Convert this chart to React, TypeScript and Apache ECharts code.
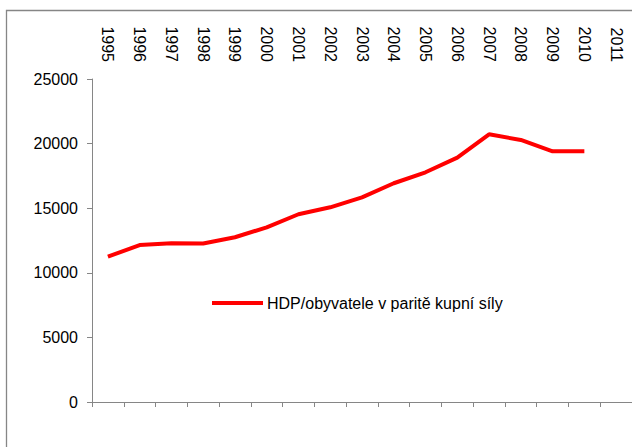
import React, { useEffect, useRef } from "react";
import * as echarts from "echarts";

const years = ["1995","1996","1997","1998","1999","2000","2001","2002","2003","2004","2005","2006","2007","2008","2009","2010","2011"];
const hdp: (number | null)[] = [11250,12150,12280,12270,12750,13520,14530,15070,15840,16930,17780,18910,20720,20280,19400,19400,null];
const yTicks = { min: 0, max: 25000, interval: 5000 };
const seriesName = "HDP/obyvatele v paritě kupní síly";

export default function App() {
  const ref = useRef<HTMLDivElement>(null);
  useEffect(() => {
    document.body.style.margin = "0";
    document.body.style.overflow = "hidden";
    const chart = echarts.init(ref.current!, null, { renderer: "svg" });
    const font = "Liberation Sans, Arial, sans-serif";
    const gray = "#868686";
    chart.setOption({
      animation: false,
      backgroundColor: "#ffffff",
      textStyle: { fontFamily: font },
      graphic: [
        {
          type: "rect",
          shape: { x: 6.5, y: 10.5, width: 700, height: 500 },
          style: { fill: "none", stroke: gray, lineWidth: 1.3 },
          silent: true,
        },
      ],
      grid: { left: 92, top: 79, right: -6, bottom: 45 },
      legend: {
        left: 212,
        top: 295,
        padding: 0,
        icon: "rect",
        itemWidth: 51,
        itemHeight: 4,
        itemGap: 5,
        textStyle: { fontFamily: font, fontSize: 16, color: "#000", padding: [0, 0, 0, -1] },
        data: [seriesName],
      },
      xAxis: [
        {
          type: "category",
          data: years,
          position: "bottom",
          boundaryGap: true,
          axisLine: { lineStyle: { color: gray, width: 1 } },
          axisTick: { show: true, length: 5, interval: 0, lineStyle: { color: gray } },
          axisLabel: { show: false },
          splitLine: { show: false },
        },
        {
          type: "category",
          data: years,
          position: "top",
          boundaryGap: true,
          axisLine: { show: false },
          axisTick: { show: false },
          axisLabel: {
            rotate: 90,
            margin: 17,
            fontSize: 16,
            color: "#000",
            fontFamily: font,
            interval: 0,
          },
          splitLine: { show: false },
        },
      ],
      yAxis: {
        type: "value",
        min: yTicks.min,
        max: yTicks.max,
        interval: yTicks.interval,
        axisLine: { show: true, lineStyle: { color: gray, width: 1 } },
        axisTick: { show: true, length: 5, lineStyle: { color: gray } },
        axisLabel: {
          fontSize: 16,
          color: "#000",
          margin: 14,
          fontFamily: font,
          formatter: (v: number) => String(v),
        },
        splitLine: { show: false },
      },
      series: [
        {
          name: seriesName,
          type: "line",
          xAxisIndex: 0,
          data: hdp,
          symbol: "none",
          color: "#ff0000",
          lineStyle: { color: "#ff0000", width: 4 },
        },
      ],
    });
    return () => chart.dispose();
  }, []);
  return <div ref={ref} style={{ width: 632, height: 447 }} />;
}
